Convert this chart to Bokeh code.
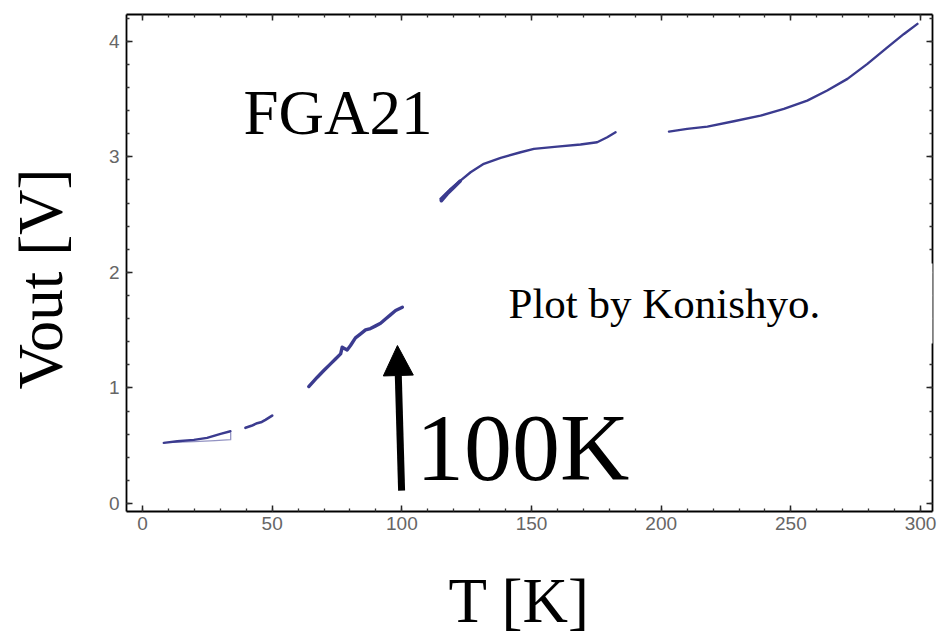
from math import pi

from bokeh.embed import file_html
from bokeh.layouts import column, row
from bokeh.models import (Arrow, CustomJSTickFormatter, Label, LinearAxis, NormalHead,
                          Range1d, SingleIntervalTicker)
from bokeh.plotting import figure
from bokeh.resources import INLINE

# Output voltage Vout [V] against temperature T [K], one list pair per recorded sweep
t_a = [8.2, 13.4, 19.8, 24.9, 30.1, 33.9]
v_a = [0.525, 0.539, 0.551, 0.568, 0.603, 0.625]
t_a_back = [12.0, 20.0, 28.0, 34.0, 34.0]
v_a_back = [0.530, 0.536, 0.545, 0.552, 0.610]
t_b = [39.7, 42.0, 44.2, 46.0, 47.4, 50.0]
v_b = [0.655, 0.672, 0.695, 0.706, 0.724, 0.761]
t_c = [64.1, 67.4, 69.9, 72.5, 74.4, 76.4, 77.0, 78.9, 80.2, 82.1, 84.1, 86.0,
       87.9, 89.9, 91.8, 93.7, 95.6, 97.6, 100.2]
v_c = [1.012, 1.093, 1.151, 1.208, 1.251, 1.295, 1.352, 1.329, 1.367, 1.433, 1.468,
       1.502, 1.514, 1.537, 1.560, 1.597, 1.632, 1.670, 1.698]
t_d = [114.9, 118.8, 122.6, 126.5, 131.6, 138.1, 145.8, 150.9, 159.9, 168.9, 175.3,
       179.2, 182.4]
v_d = [2.636, 2.722, 2.794, 2.866, 2.939, 2.990, 3.039, 3.068, 3.088, 3.106, 3.126,
       3.169, 3.212]
t_d_start = [115.2, 117.5, 120.0, 122.5]
v_d_start = [2.620, 2.680, 2.735, 2.790]
t_e = [203.0, 210.0, 217.8, 228.0, 238.3, 247.3, 256.3, 264.0, 271.8, 279.5, 287.2,
       293.6, 298.8]
v_e = [3.218, 3.241, 3.261, 3.307, 3.356, 3.414, 3.486, 3.573, 3.674, 3.804, 3.947,
       4.063, 4.150]

x_ticks_every = 50
y_ticks_every = 1

# Annotation anchors (data coordinates)
arrow_t, arrow_tip_t = 99.9, 98.3
arrow_from_v, arrow_to_v = 0.112, 1.367

SERIF = "Liberation Serif"
CURVE = "#3b3b8f"

TITLE_W, PLOT_W, PLOT_H, FOOT_H = 90, 848, 545, 92


def text_strip(width, height, y_top):
    """A bare figure whose data units are canvas pixels, used to hold an axis title."""
    f = figure(width=width, height=height, x_range=Range1d(0, width),
               y_range=Range1d(y_top + height, y_top), min_border=0,
               x_axis_location=None, y_axis_location=None,
               output_backend="svg", toolbar_location=None)
    f.grid.visible = False
    f.outline_line_color = None
    f.background_fill_color = "white"
    f.border_fill_color = "white"
    return f


p = figure(
    width=PLOT_W, height=PLOT_H,
    x_range=Range1d(-6.17, 304.6), y_range=Range1d(-0.069, 4.231),
    output_backend="svg", toolbar_location=None,
    min_border_left=36, min_border_right=6, min_border_top=14, min_border_bottom=34,
)
p.grid.visible = False
p.outline_line_color = None
p.background_fill_color = "white"
p.border_fill_color = "white"

bottom_axis = p.below[0]
left_axis = p.left[0]

# Mirrored tick marks on the top and right edges, without numbers
blank = CustomJSTickFormatter(code="return ''")
top_axis = LinearAxis(formatter=blank)
right_axis = LinearAxis(formatter=blank)
p.add_layout(top_axis, "above")
p.add_layout(right_axis, "right")

for ax in (bottom_axis, top_axis):
    ax.ticker = SingleIntervalTicker(interval=x_ticks_every, num_minor_ticks=5)
for ax in (left_axis, right_axis):
    ax.ticker = SingleIntervalTicker(interval=y_ticks_every, num_minor_ticks=5)

for ax in (bottom_axis, left_axis, top_axis, right_axis):
    ax.axis_line_color = "black"
    ax.axis_line_width = 1.8
    ax.major_tick_in = 6
    ax.major_tick_out = 0
    ax.minor_tick_in = 3
    ax.minor_tick_out = 0
    ax.major_tick_line_color = "#222222"
    ax.minor_tick_line_color = "#333333"
    ax.major_tick_line_width = 1.5
    ax.minor_tick_line_width = 1.3
    ax.major_label_text_font = "Liberation Sans"
    ax.major_label_text_font_size = "19px"
    ax.major_label_text_color = "#666666"

bottom_axis.major_label_standoff = 5
left_axis.major_label_standoff = 7
for ax in (top_axis, right_axis):
    ax.major_label_standoff = 0

# Sweeps
for ts, vs, w, a in [
    (t_a, v_a, 2.4, 1.0), (t_a_back, v_a_back, 1.3, 0.55), (t_b, v_b, 2.6, 1.0),
    (t_c, v_c, 3.4, 1.0), (t_d, v_d, 2.4, 1.0), (t_d_start, v_d_start, 3.6, 1.0),
    (t_e, v_e, 2.4, 1.0),
]:
    p.line(ts, vs, line_color=CURVE, line_width=w, line_alpha=a,
           line_join="round", line_cap="round")

# Arrow pointing at the 100 K region
p.add_layout(Arrow(
    x_start=arrow_t, y_start=arrow_from_v, x_end=arrow_tip_t, y_end=arrow_to_v,
    line_color="black", line_width=7,
    end=NormalHead(size=30, fill_color="black", line_color="black"),
))

p.add_layout(Label(x=38.9, y=3.08, text="FGA21", text_font=SERIF,
                   text_font_size="63px", text_color="black"))
p.add_layout(Label(x=105.5, y=0.026, text="100K", text_font=SERIF,
                   text_font_size="96px", text_color="black"))
p.add_layout(Label(x=125.7, y=1.384, text="Plot by Konishyo.", text_font=SERIF,
                   text_font_size="43px", text_color="black",
                   background_fill_color="white",
                   padding=dict(top=16, right=118, bottom=17, left=40)))

# Axis titles, each in its own strip beside the plot
y_title = text_strip(TITLE_W, PLOT_H, 0)
y_title.add_layout(Label(x=40, y=290, text="Vout [V]", angle=pi / 2, text_align="center",
                         text_baseline="middle", text_font=SERIF,
                         text_font_size="63px", text_color="black"))

x_title = text_strip(TITLE_W + PLOT_W, FOOT_H, PLOT_H)
x_title.add_layout(Label(x=448, y=600, text="T [K]", text_align="left",
                         text_baseline="middle", text_font=SERIF,
                         text_font_size="63px", text_color="black"))

layout = column(row(y_title, p, spacing=0), x_title, spacing=0)

open("out.html", "w").write(file_html(layout, INLINE))
